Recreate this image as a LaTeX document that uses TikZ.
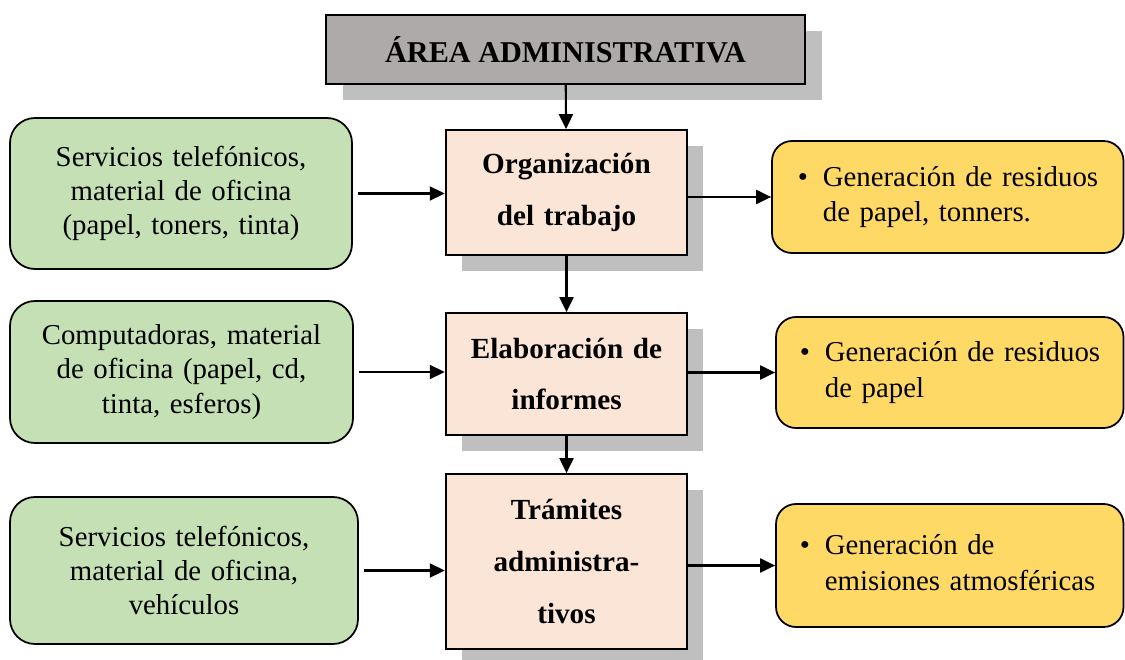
\documentclass[tikz,border=0pt]{standalone}
\usepackage{fontspec}
\setmainfont{Liberation Serif}
\usetikzlibrary{arrows.meta,shadows}

\definecolor{areagray}{HTML}{AEAAAA}
\definecolor{shadowgray}{HTML}{BFBFBF}
\definecolor{ingreen}{HTML}{C5E0B4}
\definecolor{taskpeach}{HTML}{FBE5D6}
\definecolor{outyellow}{HTML}{FFD966}

\tikzset{
  box/.style={draw=black, line width=1pt},
  areabox/.style={box, fill=areagray, font=\bfseries\fontsize{17.2}{20}\selectfont,
    general shadow={fill=shadowgray, shadow xshift=0.33cm, shadow yshift=-0.33cm},
    minimum width=9.58cm, minimum height=1.38cm},
  inbox/.style={box, rounded corners=0.5cm, fill=ingreen, align=center, text width=6.4cm,
    font=\fontsize{16.4}{19.5}\selectfont},
  taskbox/.style={box, fill=taskpeach, align=center, text width=4.6cm, minimum width=4.82cm,
    font=\bfseries\fontsize{16.6}{29.5}\selectfont,
    general shadow={fill=shadowgray, shadow xshift=0.32cm, shadow yshift=-0.32cm}},
  outbox/.style={box, rounded corners=0.4cm, fill=outyellow, align=left, text width=6cm,
    minimum width=6.95cm, font=\fontsize{16.4}{20}\selectfont},
  arr/.style={-{Triangle[length=0.3cm,width=0.28cm]}, line width=1.2pt},
}

\begin{document}
\begin{tikzpicture}
    \useasboundingbox (0,0) rectangle (22.5,-13.2);

    % top
    \node[areabox] (area) at (11.31,-0.99) {ÁREA ADMINISTRATIVA};

    % inputs
    \node[inbox, minimum width=6.84cm, minimum height=3.02cm] (in1) at (3.62,-3.87)
        {Servicios telefónicos,\\ material de oficina\\ (papel, toners, tinta)};
    \node[inbox, minimum width=6.86cm, minimum height=2.84cm] (in2) at (3.63,-7.44)
        {Computadoras, material\\ de oficina (papel, cd,\\ tinta, esferos)};
    \node[inbox, minimum width=6.96cm, minimum height=2.94cm] (in3) at (3.68,-11.41)
        {Servicios telefónicos,\\ material de oficina,\\ vehículos};

    % tasks
    \node[taskbox, minimum height=2.5cm] (task1) at (11.33,-3.85) {Organización\\ del trabajo};
    \node[taskbox, minimum height=2.44cm] (task2) at (11.33,-7.48) {Elaboración de\\ informes};
    \node[taskbox, minimum height=3.5cm] (task3) at (11.33,-11.23) {Trámites\\ administra-\\ tivos};

    % outputs
    \node[outbox, minimum width=7.03cm, minimum height=2.24cm] (out1) at (18.955,-3.94)
        {\begin{tabular}{@{}l@{\hspace{0.3cm}}l@{}}\textbullet & Generación de residuos\\ & de papel, tonners.\end{tabular}};
    \node[outbox, minimum height=2.22cm] (out2) at (18.995,-7.45)
        {\begin{tabular}{@{}l@{\hspace{0.3cm}}l@{}}\textbullet & Generación de residuos\\ & de papel\end{tabular}};
    \node[outbox, minimum height=2.46cm] (out3) at (18.995,-11.31)
        {\begin{tabular}{@{}l@{\hspace{0.3cm}}l@{}}\textbullet & Generación de\\ & emisiones atmosféricas\end{tabular}};

    % arrows
    \draw[arr] (area) -- (task1);
    \draw[arr] (task1) -- (task2);
    \draw[arr] (task2) -- (task3);
    \draw[arr, shorten <=0.1cm] (in1.east) -- (in1.east -| task1.west);
    \draw[arr, shorten <=0.1cm] (in2.east) -- (in2.east -| task2.west);
    \draw[arr, shorten <=0.1cm] (in3.east) -- (in3.east -| task3.west);
    \draw[arr] (task1.east |- out1.west) -- (out1.west);
    \draw[arr] (task2.east |- out2.west) -- (out2.west);
    \draw[arr] (task3.east |- out3.west) -- (out3.west);
\end{tikzpicture}
\end{document}
